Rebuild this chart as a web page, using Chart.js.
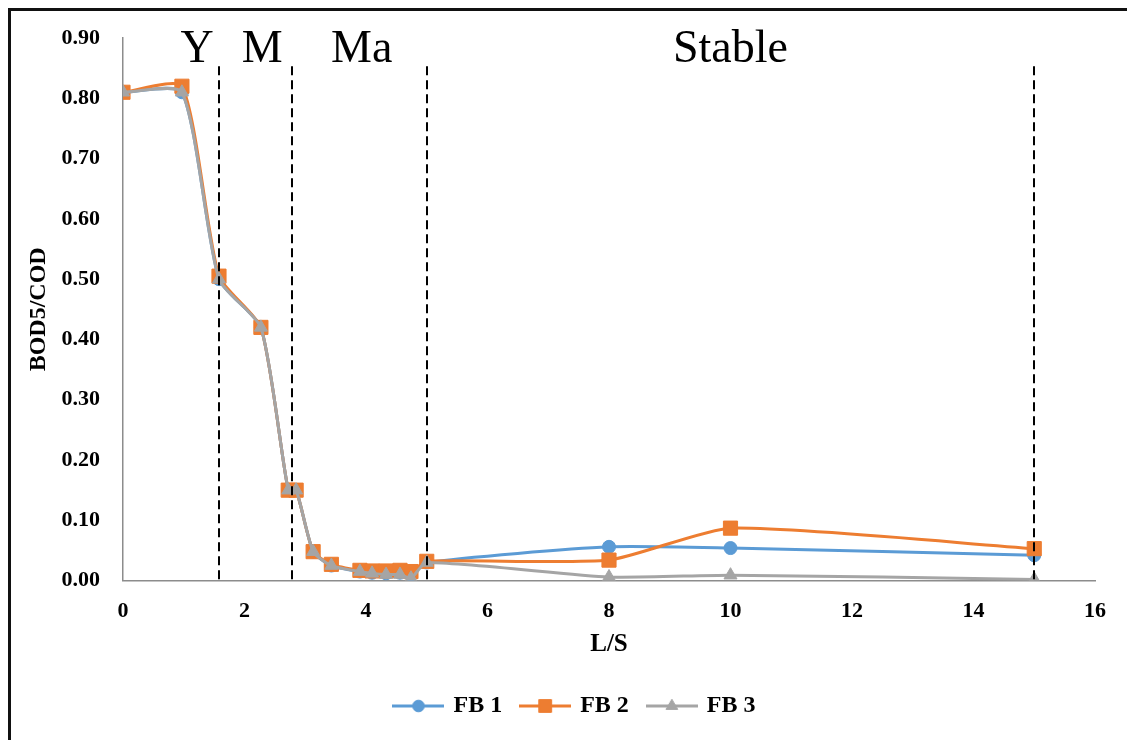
<!DOCTYPE html>
<html>
<head>
<meta charset="utf-8">
<title>BOD5/COD vs L/S</title>
<script src="https://cdn.jsdelivr.net/npm/chart.js@4.4.1/dist/chart.umd.min.js"></script>
<style>
  html, body { margin: 0; padding: 0; background: #fff; }
  #wrap { width: 1127px; height: 740px; position: relative; overflow: hidden; }
</style>
</head>
<body>
<div id="wrap"><canvas id="chart" width="1127" height="740"></canvas></div>
<script>
// L/S ratio at each sampling point
const lsRatio = [0, 0.97, 1.58, 2.27, 2.72, 2.85, 3.13, 3.43, 3.90, 4.10, 4.33, 4.56, 4.74, 5, 8, 10, 15];

// BOD5/COD for each filter bed
const fb1 = [0.81, 0.81, 0.50, 0.42, 0.15, 0.15, 0.048, 0.025, 0.015, 0.013, 0.012, 0.013, 0.010, 0.030, 0.056, 0.054, 0.042];
const fb2 = [0.81, 0.82, 0.505, 0.42, 0.15, 0.15, 0.048, 0.027, 0.017, 0.016, 0.016, 0.017, 0.015, 0.032, 0.034, 0.087, 0.053];
const fb3 = [0.81, 0.81, 0.50, 0.42, 0.15, 0.15, 0.048, 0.025, 0.015, 0.012, 0.010, 0.010, 0.004, 0.030, 0.006, 0.009, 0.002];

const seriesNames = ['FB 1', 'FB 2', 'FB 3'];

// axis ticks
const xTicks = [0, 2, 4, 6, 8, 10, 12, 14, 16];
const yTicks = [0, 0.1, 0.2, 0.3, 0.4, 0.5, 0.6, 0.7, 0.8, 0.9];

// stage boundaries (dashed lines) and stage names
const stageBounds = [1.58, 2.78, 5, 15];
const stageNames = ['Y', 'M', 'Ma', 'Stable'];
const stageCentres = [1.22, 2.29, 3.93, 10.0];

const COLORS = ['#5B9BD5', '#ED7D31', '#A5A5A5'];
const STYLES = ['circle', 'rect', 'triangle'];
const RADII = [6.5, 10, 7.5];
const SERIF = '"Liberation Serif", "Times New Roman", serif';

function toPoints(ys) {
  return lsRatio.map((x, i) => ({ x: x, y: ys[i] }));
}

// legend symbol: a short line with the series marker on it
function legendIcon(color, style, radius) {
  const c = document.createElement('canvas');
  c.width = 52; c.height = 22;
  const g = c.getContext('2d');
  g.strokeStyle = color;
  g.lineWidth = 3;
  g.beginPath(); g.moveTo(0, 11); g.lineTo(52, 11); g.stroke();
  g.fillStyle = color;
  g.lineWidth = 1;
  Chart.helpers.drawPoint(g, { pointStyle: style, radius: radius * 0.9, borderWidth: 1, rotation: 0 }, 26, 11);
  return c;
}
const legendIcons = COLORS.map((c, i) => legendIcon(c, STYLES[i], RADII[i]));

const stagePlugin = {
  id: 'stages',
  beforeDraw(chart) {
    const ctx = chart.ctx;
    ctx.save();
    ctx.fillStyle = '#fff';
    ctx.fillRect(0, 0, chart.width, chart.height);
    // figure frame
    ctx.strokeStyle = '#111';
    ctx.lineWidth = 3;
    ctx.beginPath();
    ctx.moveTo(9.5, chart.height + 5);
    ctx.lineTo(9.5, 9.5);
    ctx.lineTo(chart.width + 5, 9.5);
    ctx.stroke();
    ctx.restore();
  },
  afterDatasetsDraw(chart) {
    const ctx = chart.ctx;
    const xs = chart.scales.x, ys = chart.scales.y;
    ctx.save();
    ctx.strokeStyle = '#000';
    ctx.lineWidth = 2;
    ctx.setLineDash([9, 5]);
    stageBounds.forEach(v => {
      const px = Math.round(xs.getPixelForValue(v));
      ctx.beginPath();
      ctx.moveTo(px, ys.getPixelForValue(0.853));
      ctx.lineTo(px, ys.getPixelForValue(0));
      ctx.stroke();
    });
    ctx.setLineDash([]);
    ctx.fillStyle = '#000';
    ctx.font = '46px ' + SERIF;
    ctx.textAlign = 'center';
    ctx.textBaseline = 'alphabetic';
    stageNames.forEach((name, i) => {
      ctx.fillText(name, xs.getPixelForValue(stageCentres[i]), ys.getPixelForValue(0.86));
    });
    ctx.restore();
  }
};

const datasets = [fb1, fb2, fb3].map((ys, i) => ({
  label: seriesNames[i],
  data: toPoints(ys),
  borderColor: COLORS[i],
  backgroundColor: COLORS[i],
  pointBackgroundColor: COLORS[i],
  pointBorderColor: COLORS[i],
  pointStyle: STYLES[i],
  pointRadius: RADII[i],
  pointBorderWidth: 1,
  borderWidth: 3,
  tension: 0.2,
  fill: false,
  order: 3 - i
}));

new Chart(document.getElementById('chart'), {
  type: 'line',
  data: { datasets: datasets },
  plugins: [stagePlugin],
  options: {
    responsive: false,
    animation: false,
    devicePixelRatio: 1,
    layout: { padding: { left: 24, right: 0, top: 38, bottom: 12 } },
    plugins: {
      tooltip: { enabled: false },
      legend: {
        position: 'bottom',
        labels: {
          usePointStyle: true,
          pointStyleWidth: 46,
          padding: 20,
          color: '#000',
          font: { family: SERIF, size: 24, weight: 'bold' },
          sort: (a, b) => a.datasetIndex - b.datasetIndex,
          generateLabels: chart => Chart.defaults.plugins.legend.labels.generateLabels(chart)
            .map(l => Object.assign(l, { pointStyle: legendIcons[l.datasetIndex] }))
        }
      }
    },
    scales: {
      x: {
        type: 'linear',
        min: xTicks[0],
        max: xTicks[xTicks.length - 1],
        afterBuildTicks: s => { s.ticks = xTicks.map(v => ({ value: v })); },
        afterFit: s => { s.paddingRight = 32; s.paddingLeft = 0; s.height -= 21; },
        grid: { display: false, drawTicks: false },
        border: { display: true, color: '#8c8c8c', width: 1.5 },
        ticks: {
          padding: 18,
          color: '#000',
          font: { family: SERIF, size: 22, weight: 'bold' },
          callback: v => String(v)
        },
        title: {
          display: true,
          text: 'L/S',
          color: '#000',
          padding: { top: 8, bottom: 14 },
          font: { family: SERIF, size: 25, weight: 'bold' }
        }
      },
      y: {
        min: yTicks[0],
        max: yTicks[yTicks.length - 1],
        afterBuildTicks: s => { s.ticks = yTicks.map(v => ({ value: v })); },
        afterFit: s => { s.width = 99; s.paddingTop = 0; s.paddingBottom = 0; },
        grid: { display: false, drawTicks: false },
        border: { display: true, color: '#8c8c8c', width: 1.5 },
        ticks: {
          padding: 23,
          color: '#000',
          font: { family: SERIF, size: 22, weight: 'bold' },
          callback: v => Number(v).toFixed(2)
        },
        title: {
          display: true,
          text: 'BOD5/COD',
          color: '#000',
          padding: { top: 0, bottom: 0 },
          font: { family: SERIF, size: 24, weight: 'bold' }
        }
      }
    }
  }
});
</script>
</body>
</html>
